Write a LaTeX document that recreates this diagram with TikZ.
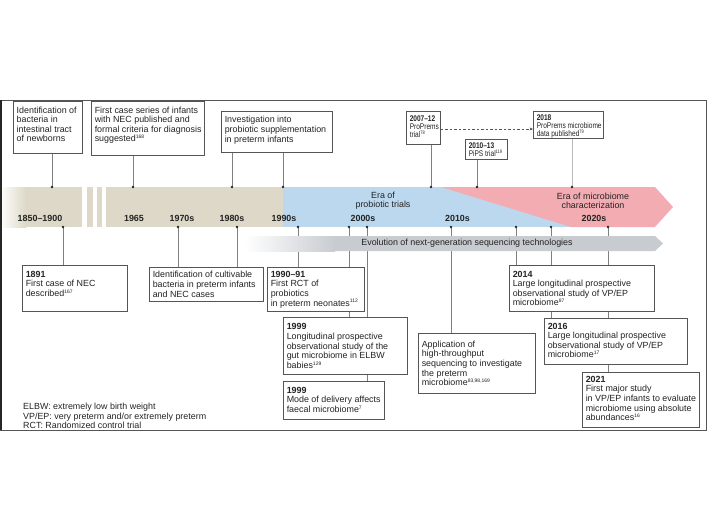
\documentclass[tikz,border=0pt]{standalone}
\usepackage{fontspec}
\setmainfont{Liberation Sans}
\newfontfamily\narrowfont[FakeStretch=0.8]{Liberation Sans}
\usetikzlibrary{arrows.meta}
\pgfdeclarelayer{background}
\pgfsetlayers{background,main}
\definecolor{beige}{RGB}{221,216,199}
\definecolor{eblue}{RGB}{187,216,238}
\definecolor{epink}{RGB}{243,172,178}
\definecolor{ngsgray}{RGB}{200,203,208}
\definecolor{edgec}{RGB}{85,85,85}
\definecolor{connc}{RGB}{128,128,128}
\definecolor{txt}{RGB}{35,35,35}
\newcommand{\refn}[1]{\raisebox{3.2pt}{\fontsize{5}{5}\selectfont #1}}
\newcommand{\bxt}[4][11.8pt]{\parbox[c][#3pt][t]{#2pt}{\raggedright\leftskip=3.4pt\rule{0pt}{#1}#4}}
\tikzset{
  bx/.style={draw=edgec, line width=0.7pt, fill=white, inner sep=0pt, anchor=north west, text=txt, font=\fontsize{8.9}{9.6}\selectfont},
  sbx/.style={bx, font=\narrowfont\fontsize{8.2}{8}\selectfont},
  dotn/.style={circle, fill=black!85, inner sep=0pt, minimum size=2.6pt},
  cn/.style={draw=connc, line width=0.6pt},
  yr/.style={font=\bfseries\fontsize{8.9}{9.6}\selectfont, text=txt, anchor=base, inner sep=0pt},
  era/.style={font=\fontsize{8.9}{9.3}\selectfont, align=center, text=txt, inner sep=0pt},
  legend/.style={font=\fontsize{8.9}{9.6}\selectfont, text=txt, anchor=base west, inner sep=0pt},
}
\begin{document}
\begin{tikzpicture}[x=1pt,y=-1pt]
\useasboundingbox (0,0) rectangle (708,531);
\begin{scope}
\clip (0,100) rectangle (706,430);
% band
\fill[left color=white, right color=beige] (0,187) rectangle (26,227);
\fill[beige] (25.5,187) rectangle (82.3,227);
\fill[beige] (86.7,187) rectangle (92.7,227);
\fill[beige] (96.7,187) rectangle (101.7,227);
\fill[beige] (106,187) rectangle (283.5,227);
\fill[eblue] (283,187) rectangle (600,227);
\fill[epink] (441,187) -- (655,187) -- (673,207) -- (655,227) -- (571,227) -- cycle;
% NGS bar
\fill[left color=white, right color=ngsgray] (245,236) rectangle (335,251);
\fill[ngsgray] (334.5,236) -- (655,236) -- (663,243.5) -- (655,251) -- (334.5,251) -- cycle;
\node[era] (ngs) at (467,243.5) {Evolution of next-generation sequencing technologies};
% eras
\node[era] (era1) at (383,200.5) {Era of\\probiotic trials};
\node[era] (era2) at (593,200.5) {Era of microbiome\\characterization};
% years
\node[yr] (y1850) at (40,221) {1850–1900};
\node[yr] (y1965) at (134,221) {1965};
\node[yr] (y1970) at (182,221) {1970s};
\node[yr] (y1980) at (232,221) {1980s};
\node[yr] (y1990) at (284,221) {1990s};
\node[yr] (y2000) at (363,221) {2000s};
\node[yr] (y2010) at (457.5,221) {2010s};
\node[yr] (y2020) at (594,221) {2020s};
% coordinates of dots
\coordinate (t1) at (52,187);
\coordinate (t2) at (133,187);
\coordinate (t3) at (232,187);
\coordinate (t4) at (283,187);
\coordinate (t5) at (431,187);
\coordinate (t6) at (477,187);
\coordinate (t7) at (572,187);
\coordinate (b1) at (63,227);
\coordinate (b2) at (178,227);
\coordinate (b3) at (237,227);
\coordinate (b4) at (298,227);
\coordinate (b5) at (349,227);
\coordinate (b6) at (367,227);
\coordinate (b7) at (451,227);
\coordinate (b8) at (516,227);
\coordinate (b9) at (551,227);
\coordinate (b10) at (608,227);
\coordinate (ay) at (0,129);
% top boxes
\node[bx] (A) at (13,101) {\bxt{69}{52}{Identification of\\bacteria in\\intestinal tract\\of newborns}};
\node[bx] (B) at (91,101) {\bxt{113}{54}{First case series of infants\\with NEC published and\\formal criteria for diagnosis\\suggested\refn{168}}};
\node[bx] (C) at (221,111) {\bxt[11.5pt]{111}{41}{Investigation into\\probiotic supplementation\\in preterm infants}};
\node[sbx] (D) at (406,111) {\bxt[9.9pt]{34}{33}{\textbf{2007–12}\\ProPrems\\trial\refn{78}}};
\node[sbx] (E) at (465,139) {\bxt[9.2pt]{42}{20}{\textbf{2010–13}\\PiPS trial\refn{119}}};
\node[sbx] (F) at (533,111) {\bxt[9.6pt]{70}{27}{\textbf{2018}\\ProPrems microbiome\\data published\refn{79}}};
\draw[draw=edgec, line width=0.6pt, dash pattern=on 2.5pt off 2pt, -{Stealth[length=3.5pt,width=2.8pt]}] (D.east |- ay) -- (F.west |- ay);
% bottom boxes
\node[bx] (N1891) at (22,265) {\bxt{105}{46}{\textbf{1891}\\First case of NEC\\described\refn{167}}};
\node[bx] (cult) at (149,267) {\bxt[10.5pt]{114}{34}{Identification of cultivable\\bacteria in preterm infants\\and NEC cases}};
\node[bx] (rct) at (267,267) {\bxt[10pt]{97}{44}{\textbf{1990–91}\\First RCT of\\probiotics\\in preterm neonates\refn{112}}};
\node[bx] (y99a) at (283,317) {\bxt[12.5pt]{124}{57}{\textbf{1999}\\Longitudinal prospective\\observational study of the\\gut microbiome in ELBW\\babies\refn{129}}};
\node[bx] (y99b) at (283,381) {\bxt[12pt]{101}{38}{\textbf{1999}\\Mode of delivery affects\\faecal microbiome\refn{7}}};
\node[bx] (app) at (418,333) {\bxt[14pt]{117}{60}{Application of\\high-throughput\\sequencing to investigate\\the preterm\\microbiome\refn{83,98,169}}};
\node[bx] (y14) at (509,265) {\bxt[11.7pt]{145}{46}{\textbf{2014}\\Large longitudinal prospective\\observational study of VP/EP\\microbiome\refn{87}}};
\node[bx] (y16) at (544,318) {\bxt[10.7pt]{143}{46}{\textbf{2016}\\Large longitudinal prospective\\observational study of VP/EP\\microbiome\refn{17}}};
\node[bx] (y21) at (582,372) {\bxt[10pt]{117}{55}{\textbf{2021}\\First major study\\in VP/EP infants to evaluate\\microbiome using absolute\\abundances\refn{16}}};
% connectors
\begin{pgfonlayer}{background}
\draw[cn] (t1) -- (A.south -| t1);
\draw[cn] (t2) -- (B.south -| t2);
\draw[cn] (t3) -- (C.south -| t3);
\draw[cn] (t4) -- (C.south -| t4);
\draw[cn] (t5) -- (D.south -| t5);
\draw[cn] (t6) -- (E.south -| t6);
\draw[cn, draw=connc!55] (t7) -- (F.south -| t7);
\draw[cn] (b1) -- (N1891.north -| b1);
\draw[cn] (b2) -- (cult.north -| b2);
\draw[cn] (b3) -- (cult.north -| b3);
\draw[cn] (b4) -- (rct.north -| b4);
\draw[cn] (b5) -- (y99a.north -| b5);
\draw[cn] (b6) -- (y99b.north -| b6);
\draw[cn] (b7) -- (app.north -| b7);
\draw[cn] (b8) -- (y14.north -| b8);
\draw[cn] (b9) -- (y16.north -| b9);
\draw[cn] (b10) -- (y21.north -| b10);
\end{pgfonlayer}
% dots
\foreach \p in {t1,t2,t3,t4,t5,t6,t7,b1,b2,b3,b4,b5,b6,b7,b8,b9,b10}
  \node[dotn] (dot\p) at (\p) {};
% legend
\node[legend] (leg1) at (23,409.5) {ELBW: extremely low birth weight};
\node[legend] (leg2) at (23,419.2) {VP/EP: very preterm and/or extremely preterm};
\node[legend] (leg3) at (23,428.9) {RCT: Randomized control trial};
\end{scope}
% frame
\draw[draw=edgec, line width=0.8pt] (0,100) rectangle (706,430);
\fill[black!85] (0,100) rectangle (2.4,430);
\end{tikzpicture}
\end{document}
